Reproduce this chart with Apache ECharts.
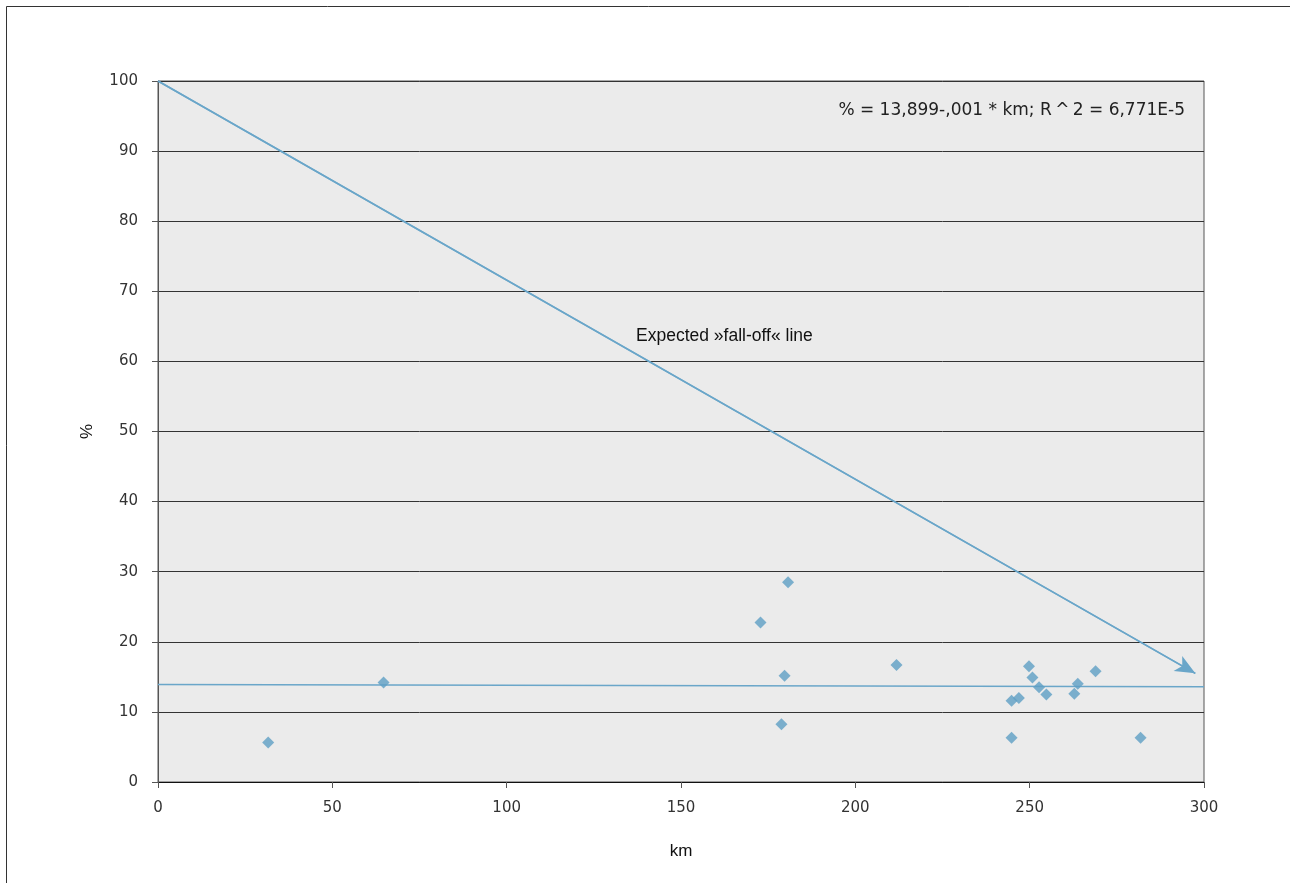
<!DOCTYPE html>
<html>
<head>
<meta charset="utf-8">
<style>
  html, body { margin: 0; padding: 0; background: #ffffff; }
  #chart { width: 1290px; height: 883px; }
</style>
<script src="https://cdn.jsdelivr.net/npm/echarts@6/dist/echarts.min.js"></script>
</head>
<body>
<div id="chart"></div>
<script>
// Distance (km) and share (%) per site
const km = [31.6, 64.7, 172.8, 180.7, 179.7, 178.8, 211.8, 244.8, 244.8, 246.9,
            249.8, 250.8, 252.7, 254.8, 262.8, 263.8, 268.9, 281.8];
const pct = [5.65, 14.2, 22.75, 28.5, 15.15, 8.25, 16.7, 6.3, 11.6, 12.0,
             16.5, 14.9, 13.5, 12.5, 12.6, 14.0, 15.8, 6.3];

// Linear fit endpoints: % = 13,899 - 0,001 * km
const trendKm = [0, 300];
const trendPct = [13.899, 13.599];

// Expected fall-off line (start and arrow tip)
const expectedKm = [0, 297.5];
const expectedPct = [100, 15.5];

const equationText = '% = 13,899-,001 * km; R\u2009^\u20092 = 6,771E-5';
const expectedText = 'Expected \u00bbfall-off\u00ab line';

const blue = '#5e9fc4';
const lineBlue = '#6aa6c9';
const narrow = '"Liberation Sans Narrow", "Liberation Sans", sans-serif';

const chart = echarts.init(document.getElementById('chart'), null, { renderer: 'canvas' });

chart.setOption({
  animation: false,
  backgroundColor: '#ffffff',
  grid: {
    left: 158, top: 81, right: 86, bottom: 101,
    show: true,
    backgroundColor: '#ebebeb',
    borderColor: '#555555',
    borderWidth: 1
  },
  xAxis: {
    type: 'value',
    min: 0, max: 300, interval: 50,
    name: 'km', nameLocation: 'middle', nameGap: 61,
    nameTextStyle: { fontFamily: narrow, fontSize: 17, color: '#111' },
    axisLine: { show: true, lineStyle: { color: '#111', width: 1 } },
    axisTick: { show: true, length: 6, lineStyle: { color: '#555' } },
    axisLabel: { fontFamily: 'DejaVu Sans', fontSize: 15, color: '#333', margin: 19 },
    splitLine: { show: false }
  },
  yAxis: {
    type: 'value',
    min: 0, max: 100, interval: 10,
    name: '%', nameLocation: 'middle', nameGap: 62,
    nameTextStyle: { fontFamily: narrow, fontSize: 17, color: '#111' },
    axisLine: { show: true, lineStyle: { color: '#555', width: 1 } },
    axisTick: { show: true, length: 6, lineStyle: { color: '#555' } },
    axisLabel: { fontFamily: 'DejaVu Sans', fontSize: 15, color: '#333', margin: 20 },
    splitLine: { show: true, lineStyle: { color: '#333', width: 1 } }
  },
  series: [
    {
      type: 'line',
      data: trendKm.map((x, i) => [x, trendPct[i]]),
      symbol: 'none',
      lineStyle: { color: lineBlue, width: 1.5 },
      z: 3
    },
    {
      type: 'line',
      data: expectedKm.map((x, i) => [x, expectedPct[i]]),
      symbol: 'none',
      lineStyle: { color: lineBlue, width: 1.5 },
      markLine: {
        silent: true,
        symbol: ['none', 'arrow'],
        symbolSize: [13, 20],
        label: { show: false },
        lineStyle: { color: lineBlue, width: 1.5, type: 'solid' },
        data: [[
          { coord: [expectedKm[0], expectedPct[0]] },
          { coord: [expectedKm[1], expectedPct[1]] }
        ]]
      },
      z: 3
    },
    {
      type: 'scatter',
      data: km.map((x, i) => [x, pct[i]]),
      symbol: 'diamond',
      symbolSize: [12, 12],
      itemStyle: { color: blue },
      z: 4
    }
  ],
  graphic: [
    {
      type: 'rect',
      shape: { x: 6.5, y: 6.5, width: 1400, height: 1000 },
      style: { fill: 'none', stroke: '#333', lineWidth: 1 },
      silent: true
    },
    {
      type: 'text',
      x: 1185, y: 111,
      style: {
        text: equationText,
        fontFamily: 'DejaVu Sans', fontSize: 17, fill: '#222',
        textAlign: 'right', textVerticalAlign: 'middle'
      },
      z: 10
    },
    {
      type: 'text',
      x: 636, y: 336,
      style: {
        text: expectedText,
        fontFamily: narrow, fontSize: 17.5, fill: '#111',
        textAlign: 'left', textVerticalAlign: 'middle'
      },
      z: 10
    }
  ]
});
</script>
</body>
</html>
